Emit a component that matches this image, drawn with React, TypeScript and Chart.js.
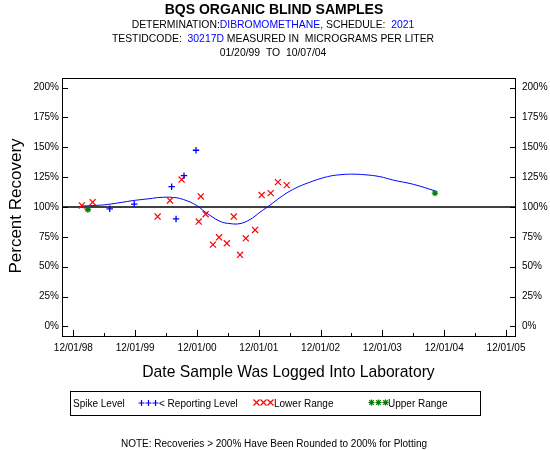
import React, { useEffect, useRef } from "react";
import { Chart, registerables } from "chart.js";

Chart.register(...registerables);

const FONT = '"Liberation Sans", Arial, Helvetica, sans-serif';
const BLUE = "#0000ff";
const RED = "#ff0000";
const GREEN = "#008000";

// ---- data (dates as MM/DD/YY) ----
const reportingDates = ["07/04/99", "11/26/99", "07/04/00", "07/30/00", "09/15/00", "11/25/00"];
const reportingValues = [98.5, 102.4, 117, 90, 126.2, 147.5];

const lowerDates = [
  "01/20/99", "03/25/99", "04/12/00", "06/24/00", "09/01/00", "12/11/00", "12/23/00",
  "01/21/01", "03/05/01", "04/10/01", "05/26/01", "07/06/01", "08/12/01", "09/15/01",
  "11/09/01", "12/18/01", "02/09/02", "03/24/02", "05/15/02",
];
const lowerValues = [
  101.3, 104, 92, 105.5, 123, 87.8, 108.8,
  94, 68.5, 74.6, 69.6, 92, 60, 73.8,
  80.8, 110, 111.6, 120.8, 118.3,
];

const upperDates = ["02/25/99", "10/07/04"];
const upperValues = [97.9, 111.6];

const trendDates = [
  "01/20/99", "05/04/99", "07/06/99", "11/26/99", "02/27/00", "04/26/00", "07/14/00",
  "09/11/00", "11/29/00", "01/17/01", "04/16/01", "06/14/01", "08/12/01", "10/10/01",
  "12/08/01", "02/05/02", "04/06/02", "06/03/02", "08/01/02", "09/30/02", "11/28/02",
  "01/27/03", "03/26/03", "06/01/03", "08/21/03", "11/17/03", "02/04/04", "06/01/04",
  "10/07/04",
];
const trendValues = [
  100.8, 101.5, 102.4, 105.5, 107, 108, 108,
  106.3, 101.3, 95.9, 88, 86.1, 86.1, 89.5,
  95.6, 101.5, 108, 113.3, 117.5, 120.8, 123.7,
  125.9, 127, 127.5, 127, 125.4, 122.5, 119,
  113.5,
];

const spikeLevel = 100;

const xTickDates = ["12/01/98", "12/01/99", "12/01/00", "12/01/01", "12/01/02", "12/01/03", "12/01/04", "12/01/05"];
const xTickLabels = ["12/01/98", "12/01/99", "12/01/00", "12/01/01", "12/01/02", "12/01/03", "12/01/04", "12/01/05"];
const xMinorTickDates = ["06/01/99", "06/01/00", "06/01/01", "06/01/02", "06/01/03", "06/01/04", "06/01/05"];
const xMinDate = "09/25/98";
const xMaxDate = "01/23/06";

const yTickValues = [0, 25, 50, 75, 100, 125, 150, 175, 200];
const yMin = -8;
const yMax = 208;

function toTs(s: string): number {
  const [mm, dd, yy] = s.split("/").map((v) => parseInt(v, 10));
  const year = yy < 50 ? 2000 + yy : 1900 + yy;
  return Date.UTC(year, mm - 1, dd);
}

function pts(dates: string[], values: number[]) {
  return dates.map((d, i) => ({ x: toTs(d), y: values[i] }));
}

function drawSegments(ctx: CanvasRenderingContext2D, segs: [string, string][], cx: number, y: number) {
  const total = segs.reduce((a, [t]) => a + ctx.measureText(t).width, 0);
  let x = cx - total / 2;
  ctx.textAlign = "left";
  for (const [t, c] of segs) {
    ctx.fillStyle = c;
    ctx.fillText(t, x, y);
    x += ctx.measureText(t).width;
  }
}

function symbol(ctx: CanvasRenderingContext2D, kind: string, cx: number, cy: number, r: number, color: string) {
  ctx.strokeStyle = color;
  ctx.lineWidth = 1.2;
  ctx.beginPath();
  if (kind === "plus" || kind === "star") {
    ctx.moveTo(cx - r, cy);
    ctx.lineTo(cx + r, cy);
    ctx.moveTo(cx, cy - r);
    ctx.lineTo(cx, cy + r);
  }
  if (kind === "x" || kind === "star") {
    const q = kind === "star" ? r * 0.75 : r;
    ctx.moveTo(cx - q, cy - q);
    ctx.lineTo(cx + q, cy + q);
    ctx.moveTo(cx - q, cy + q);
    ctx.lineTo(cx + q, cy - q);
  }
  ctx.stroke();
}

const decorPlugin = {
  id: "decor",
  afterDraw(chart: any) {
    const ctx: CanvasRenderingContext2D = chart.ctx;
    const { left, right, top, bottom } = chart.chartArea;
    const xs = chart.scales.x;
    const ys = chart.scales.y;
    ctx.save();

    // frame
    ctx.strokeStyle = "#000";
    ctx.lineWidth = 1;
    ctx.strokeRect(left + 0.5, top + 0.5, right - left, bottom - top);

    // y ticks (inward, both sides)
    ctx.beginPath();
    for (const v of yTickValues) {
      const y = Math.round(ys.getPixelForValue(v)) + 0.5;
      ctx.moveTo(left, y);
      ctx.lineTo(left + 6, y);
      ctx.moveTo(right + 1, y);
      ctx.lineTo(right - 5, y);
    }
    // x ticks
    for (const d of xTickDates) {
      const x = Math.round(xs.getPixelForValue(toTs(d))) + 0.5;
      ctx.moveTo(x, bottom);
      ctx.lineTo(x, bottom - 6);
    }
    for (const d of xMinorTickDates) {
      const x = Math.round(xs.getPixelForValue(toTs(d))) + 0.5;
      ctx.moveTo(x, bottom);
      ctx.lineTo(x, bottom - 3);
    }
    ctx.stroke();

    // titles
    ctx.textBaseline = "middle";
    ctx.fillStyle = "#000";
    ctx.font = `bold 14px ${FONT}`;
    ctx.textAlign = "center";
    ctx.fillText("BQS ORGANIC BLIND SAMPLES", 274, 10);

    ctx.font = `10.4px ${FONT}`;
    drawSegments(ctx, [
      ["DETERMINATION:", "#000"],
      ["DIBROMOMETHANE,", BLUE],
      [" SCHEDULE:  ", "#000"],
      ["2021", BLUE],
    ], 273, 25.5);
    drawSegments(ctx, [
      ["TESTIDCODE:  ", "#000"],
      ["30217D", BLUE],
      [" MEASURED IN  MICROGRAMS PER LITER", "#000"],
    ], 273, 39.5);
    drawSegments(ctx, [["01/20/99  TO  10/07/04", "#000"]], 273, 53.5);

    // axis titles
    ctx.fillStyle = "#000";
    ctx.font = `17px ${FONT}`;
    ctx.save();
    ctx.translate(16, (top + bottom) / 2 - 1);
    ctx.rotate(-Math.PI / 2);
    ctx.textAlign = "center";
    ctx.fillText("Percent Recovery", 0, 0);
    ctx.restore();

    ctx.font = `15.7px ${FONT}`;
    ctx.textAlign = "center";
    ctx.fillText("Date Sample Was Logged Into Laboratory", (left + right) / 2, 372.5);

    // legend box
    ctx.strokeStyle = "#000";
    ctx.lineWidth = 1;
    ctx.strokeRect(70.5, 391.5, 410, 24);
    ctx.font = `10px ${FONT}`;
    ctx.textAlign = "left";
    ctx.fillStyle = "#000";
    const ly = 404;
    ctx.fillText("Spike Level", 73, ly);
    for (let i = 0; i < 3; i++) symbol(ctx, "plus", 141.5 + i * 7, ly - 1, 3, BLUE);
    ctx.fillStyle = "#000";
    ctx.fillText("< Reporting Level", 159, ly);
    for (let i = 0; i < 3; i++) symbol(ctx, "x", 256.5 + i * 7, ly - 1.5, 3, RED);
    ctx.fillStyle = "#000";
    ctx.fillText("Lower Range", 274, ly);
    for (let i = 0; i < 3; i++) symbol(ctx, "star", 371.5 + i * 7, ly - 1.5, 3, GREEN);
    ctx.fillStyle = "#000";
    ctx.fillText("Upper Range", 388, ly);

    // note
    ctx.textAlign = "center";
    ctx.font = `10px ${FONT}`;
    ctx.fillText("NOTE: Recoveries > 200% Have Been Rounded to 200% for Plotting", 274, 444);

    ctx.restore();
  },
};

export default function App() {
  const ref = useRef<HTMLCanvasElement | null>(null);

  useEffect(() => {
    if (!ref.current) return;
    const xMin = toTs(xMinDate);
    const xMax = toTs(xMaxDate);
    const chart = new Chart(ref.current, {
      type: "scatter",
      data: {
        datasets: [
          {
            label: "< Reporting Level",
            data: pts(reportingDates, reportingValues),
            pointStyle: "cross",
            pointRadius: 3.2,
            borderColor: BLUE,
            backgroundColor: BLUE,
            pointBorderWidth: 1.3,
            showLine: false,
          },
          {
            label: "Lower Range",
            data: pts(lowerDates, lowerValues),
            pointStyle: "crossRot",
            pointRadius: 4.3,
            borderColor: RED,
            backgroundColor: RED,
            pointBorderWidth: 1.2,
            showLine: false,
          },
          {
            label: "Upper Range",
            data: pts(upperDates, upperValues),
            pointStyle: "star",
            pointRadius: 3.2,
            borderColor: GREEN,
            backgroundColor: GREEN,
            pointBorderWidth: 1.3,
            showLine: false,
          },
          {
            label: "Trend",
            data: pts(trendDates, trendValues),
            showLine: true,
            borderColor: BLUE,
            borderWidth: 1,
            pointRadius: 0,
            tension: 0.4,
            fill: false,
          },
          {
            label: "Spike Level",
            data: [
              { x: xMin, y: spikeLevel },
              { x: xMax, y: spikeLevel },
            ],
            showLine: true,
            borderColor: "#000",
            borderWidth: 1.3,
            pointRadius: 0,
            fill: false,
          },
        ],
      },
      options: {
        animation: false,
        responsive: false,
        events: [],
        layout: { padding: { top: 78, left: 0, right: 0, bottom: 0 } },
        plugins: {
          legend: { display: false },
          tooltip: { enabled: false },
          title: { display: false },
        },
        scales: {
          x: {
            type: "linear",
            min: xMin,
            max: xMax,
            grid: { display: false, drawTicks: false },
            border: { display: false },
            afterBuildTicks: (s: any) => {
              s.ticks = xTickDates.map((d) => ({ value: toTs(d) }));
            },
            afterFit: (s: any) => {
              s.height = 114;
            },
            ticks: {
              autoSkip: false,
              maxRotation: 0,
              minRotation: 0,
              padding: 6,
              color: "#000",
              font: { family: FONT, size: 10 },
              callback: (_v: any, i: number) => xTickLabels[i],
            },
          },
          y: {
            position: "left",
            min: yMin,
            max: yMax,
            grid: { display: false, drawTicks: false },
            border: { display: false },
            afterBuildTicks: (s: any) => {
              s.ticks = yTickValues.map((v) => ({ value: v }));
            },
            afterFit: (s: any) => {
              s.width = 62;
            },
            ticks: {
              padding: 3,
              color: "#000",
              font: { family: FONT, size: 10 },
              callback: (v: any) => `${v}%`,
            },
          },
          y2: {
            position: "right",
            min: yMin,
            max: yMax,
            grid: { display: false, drawTicks: false },
            border: { display: false },
            afterBuildTicks: (s: any) => {
              s.ticks = yTickValues.map((v) => ({ value: v }));
            },
            afterFit: (s: any) => {
              s.width = 35;
            },
            ticks: {
              padding: 7,
              color: "#000",
              font: { family: FONT, size: 10 },
              callback: (v: any) => `${v}%`,
            },
          },
        },
      },
      plugins: [decorPlugin],
    } as any);
    return () => chart.destroy();
  }, []);

  return (
    <div style={{ position: "absolute", left: 0, top: 0, width: 550, height: 450, background: "#fff" }}>
      <canvas ref={ref} width={550} height={450} style={{ display: "block" }} />
    </div>
  );
}
